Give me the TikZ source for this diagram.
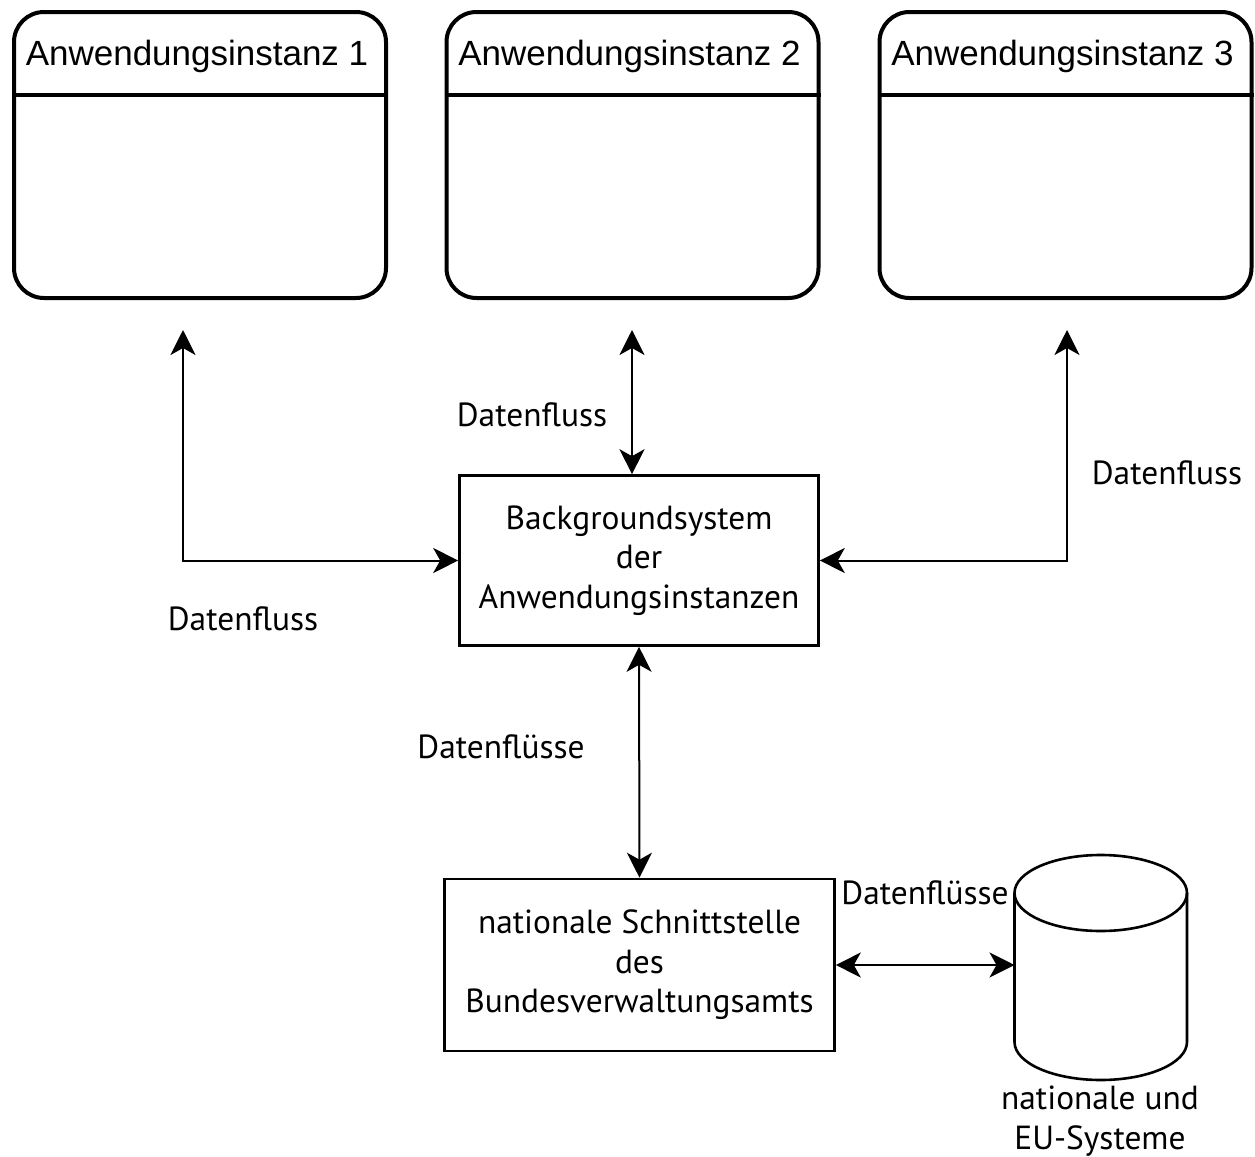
\documentclass[tikz,border=0pt]{standalone}
\usepackage{fontspec}
\setmainfont{PT Sans}
\newfontfamily\headfont{Liberation Sans}
\usetikzlibrary{arrows.meta,calc}
\tikzset{
  instbox/.style={draw,line width=2pt,rounded corners=15pt,minimum width=186pt,minimum height=143pt},
  sysbox/.style={draw,line width=1.3pt,align=center,inner sep=0pt,font=\fontsize{16.7}{19.8}\selectfont},
  flow/.style={<->,line width=1pt},
  lbl/.style={align=center,inner sep=0pt,font=\fontsize{16.7}{19.8}\selectfont},
}

\begin{document}
\begin{tikzpicture}[x=0.5pt,y=-0.5pt,>={Stealth[length=12.5pt,width=12.5pt,inset=3.5pt]}]
  \useasboundingbox (0,0) rectangle (1255,1157);
  % Anwendungsinstanzen
  \foreach \i/\x/\a in {1/200/183,2/632.5/632,3/1065.5/1067}{
    \node[instbox] (inst\i) at (\x,155) {};
    \draw[line width=2pt] ([yshift=-42.5pt]inst\i.north west) -- ([yshift=-42.5pt]inst\i.north east);
    \node[font=\headfont\fontsize{17.5}{21}\selectfont,inner sep=0pt] (head\i) at (\x-3,56) {Anwendungsinstanz \i};
    \coordinate (a\i) at (\a,330);
  }
  \node[sysbox,minimum width=179.5pt,minimum height=85pt] (bg) at (639,560.5)
    {Backgroundsystem\\der\\Anwendungsinstanzen};
  \node[sysbox,minimum width=195pt,minimum height=86pt] (nss) at (639.5,965)
    {nationale Schnittstelle\\des\\Bundesverwaltungsamts};
  % Datenbank
  \draw[line width=1.3pt] (1100.75,893) ellipse [x radius=86.25,y radius=38];
  \draw[line width=1.3pt] (1014.5,893) -- (1014.5,1042)
    arc[start angle=180,end angle=0,x radius=86.25,y radius=38] -- (1187,893);
  \coordinate (db) at (1014.5,965);
  \node[lbl] (eu) at (1100,1121) {nationale und\\EU-Systeme};
  % Datenfluesse
  \draw[flow] (a1) |- (bg.west);
  \draw[flow] (a2) -- (a2 |- bg.north);
  \draw[flow] (a3) |- (bg.east);
  \draw[flow] (bg.south) -- (nss.north);
  \draw[flow] (nss.east) -- (db);
  \node[lbl] (df1) at (243,619) {Datenfluss};
  \node[lbl] (df2) at (532,415) {Datenfluss};
  \node[lbl] (df3) at (1167,473) {Datenfluss};
  \node[lbl] (dfs1) at (501,747) {Datenflüsse};
  \node[lbl] (dfs2) at (925,893) {Datenflüsse};
\end{tikzpicture}
\end{document}
